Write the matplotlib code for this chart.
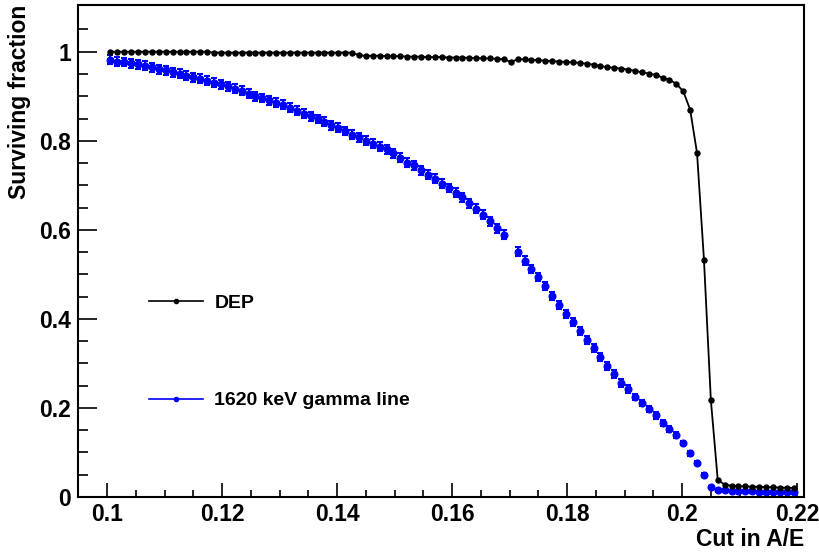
import matplotlib
matplotlib.use('Agg')
import matplotlib.pyplot as plt
import numpy as np
from matplotlib.lines import Line2D

plt.rcParams['font.family'] = ['Liberation Sans', 'DejaVu Sans']
plt.rcParams['font.weight'] = 'bold'

# cut values (bin centres)
cut = [0.1006, 0.1018, 0.1030, 0.1042, 0.1054, 0.1066, 0.1078, 0.1090, 0.1102, 0.1114,
       0.1126, 0.1138, 0.1150, 0.1162, 0.1174, 0.1186, 0.1198, 0.1210, 0.1222, 0.1234,
       0.1246, 0.1258, 0.1270, 0.1282, 0.1294, 0.1306, 0.1318, 0.1330, 0.1342, 0.1354,
       0.1366, 0.1378, 0.1390, 0.1402, 0.1414, 0.1426, 0.1438, 0.1450, 0.1462, 0.1474,
       0.1486, 0.1498, 0.1510, 0.1522, 0.1534, 0.1546, 0.1558, 0.1570, 0.1582, 0.1594,
       0.1606, 0.1618, 0.1630, 0.1642, 0.1654, 0.1666, 0.1678, 0.1690, 0.1702, 0.1714,
       0.1726, 0.1738, 0.1750, 0.1762, 0.1774, 0.1786, 0.1798, 0.1810, 0.1822, 0.1834,
       0.1846, 0.1858, 0.1870, 0.1882, 0.1894, 0.1906, 0.1918, 0.1930, 0.1942, 0.1954,
       0.1966, 0.1978, 0.1990, 0.2002, 0.2014, 0.2026, 0.2038, 0.2050, 0.2062, 0.2074,
       0.2086, 0.2098, 0.2110, 0.2122, 0.2134, 0.2146, 0.2158, 0.2170, 0.2182, 0.2194]

# DEP surviving fraction
dep = [1.000, 1.000, 1.000, 1.000, 1.000, 1.000, 1.000, 1.000, 1.000, 1.000,
       1.000, 1.000, 1.000, 1.000, 1.000, 0.998, 0.998, 0.998, 0.998, 0.998,
       0.998, 0.998, 0.998, 0.998, 0.998, 0.998, 0.998, 0.998, 0.998, 0.998,
       0.998, 0.998, 0.998, 0.998, 0.998, 0.998, 0.992, 0.991, 0.991, 0.991,
       0.990, 0.990, 0.990, 0.989, 0.989, 0.989, 0.988, 0.988, 0.988, 0.987,
       0.987, 0.987, 0.986, 0.986, 0.985, 0.985, 0.984, 0.983, 0.977, 0.983,
       0.983, 0.982, 0.981, 0.980, 0.979, 0.978, 0.977, 0.976, 0.975, 0.973,
       0.971, 0.968, 0.965, 0.964, 0.962, 0.960, 0.957, 0.954, 0.951, 0.948,
       0.942, 0.937, 0.928, 0.911, 0.870, 0.772, 0.533, 0.218, 0.038, 0.028,
       0.025, 0.024, 0.024, 0.023, 0.023, 0.022, 0.022, 0.021, 0.021, 0.020]

# 1620 keV gamma line surviving fraction (one bin missing near 0.17)
gamma = [0.982, 0.978, 0.977, 0.974, 0.972, 0.969, 0.965, 0.961, 0.958, 0.954,
         0.951, 0.946, 0.943, 0.939, 0.935, 0.930, 0.927, 0.922, 0.917, 0.912,
         0.906, 0.900, 0.896, 0.891, 0.885, 0.881, 0.874, 0.867, 0.861, 0.855,
         0.849, 0.843, 0.835, 0.829, 0.822, 0.814, 0.808, 0.800, 0.793, 0.787,
         0.781, 0.772, 0.762, 0.751, 0.745, 0.734, 0.724, 0.715, 0.704, 0.694,
         0.683, 0.673, 0.660, 0.647, 0.634, 0.619, 0.604, 0.589, np.nan, 0.551,
         0.531, 0.512, 0.495, 0.473, 0.452, 0.432, 0.411, 0.392, 0.373, 0.353,
         0.335, 0.315, 0.295, 0.276, 0.257, 0.242, 0.225, 0.211, 0.197, 0.183,
         0.167, 0.153, 0.139, 0.121, 0.098, 0.076, 0.049, 0.023, 0.016, 0.015,
         0.014, 0.014, 0.013, 0.013, 0.012, 0.012, 0.012, 0.011, 0.011, 0.011]

gamma_err = [0.010] * 61 + [0.009] * 15 + [0.007] * 7 + [0.005] * 4 + [0.002] * 13

xticks = [0.1, 0.12, 0.14, 0.16, 0.18, 0.2, 0.22]
xticklabels = ['0.1', '0.12', '0.14', '0.16', '0.18', '0.2', '0.22']
yticks = [0, 0.2, 0.4, 0.6, 0.8, 1]
yticklabels = ['0', '0.2', '0.4', '0.6', '0.8', '1']

fig = plt.figure(figsize=(8.19, 5.53), dpi=100)
ax = fig.add_axes([0.0956, 0.1013, 0.8861, 0.8897])

# gamma line: points with error bars
ax.errorbar(cut, gamma, yerr=gamma_err, fmt='o', color='blue', ecolor='blue',
            markersize=4.8, elinewidth=1.5, capsize=2.2, capthick=1.5, zorder=2)

# DEP: markers joined by a line
ax.plot(cut, dep, '-', color='black', lw=1.3, zorder=3)
ax.plot(cut, dep, 'o', color='black', markersize=3.6, zorder=4)

ax.set_xlim(0.0972, 0.2212)
ax.set_ylim(0, 1.105)
ax.set_xticks(xticks)
ax.set_xticklabels(xticklabels)
ax.set_yticks(yticks)
ax.set_yticklabels(yticklabels)
ax.set_xticks(np.arange(0.095, 0.2215, 0.005), minor=True)
ax.set_yticks(np.arange(0, 1.1, 0.05), minor=True)

for s in ax.spines.values():
    s.set_linewidth(1.5)
ax.tick_params(axis='both', which='both', direction='in', width=1.2,
               top=False, right=False, labelsize=16.5)
ax.tick_params(axis='x', which='major', length=10, pad=4)
ax.tick_params(axis='x', which='minor', length=5)
ax.tick_params(axis='y', which='major', length=14, pad=5)
ax.tick_params(axis='y', which='minor', length=7)

ax.set_xlabel('Cut in A/E', fontsize=16.5, fontweight='bold', loc='right', labelpad=2)
ax.set_ylabel('Surviving fraction', fontsize=16.5, fontweight='bold', loc='top', labelpad=6)

handles = [Line2D([0], [0], color='black', lw=1.2, marker='o', markersize=3),
           Line2D([0], [0], color='blue', lw=1.2, marker='o', markersize=3)]
ax.legend(handles, ['DEP', '1620 keV gamma line'], loc='center left',
          bbox_to_anchor=(0.087, 0.295), frameon=False, fontsize=14,
          labelspacing=4.1, handlelength=2.75, handletextpad=0.6,
          borderaxespad=0)

fig.savefig('out.png', dpi=100)
